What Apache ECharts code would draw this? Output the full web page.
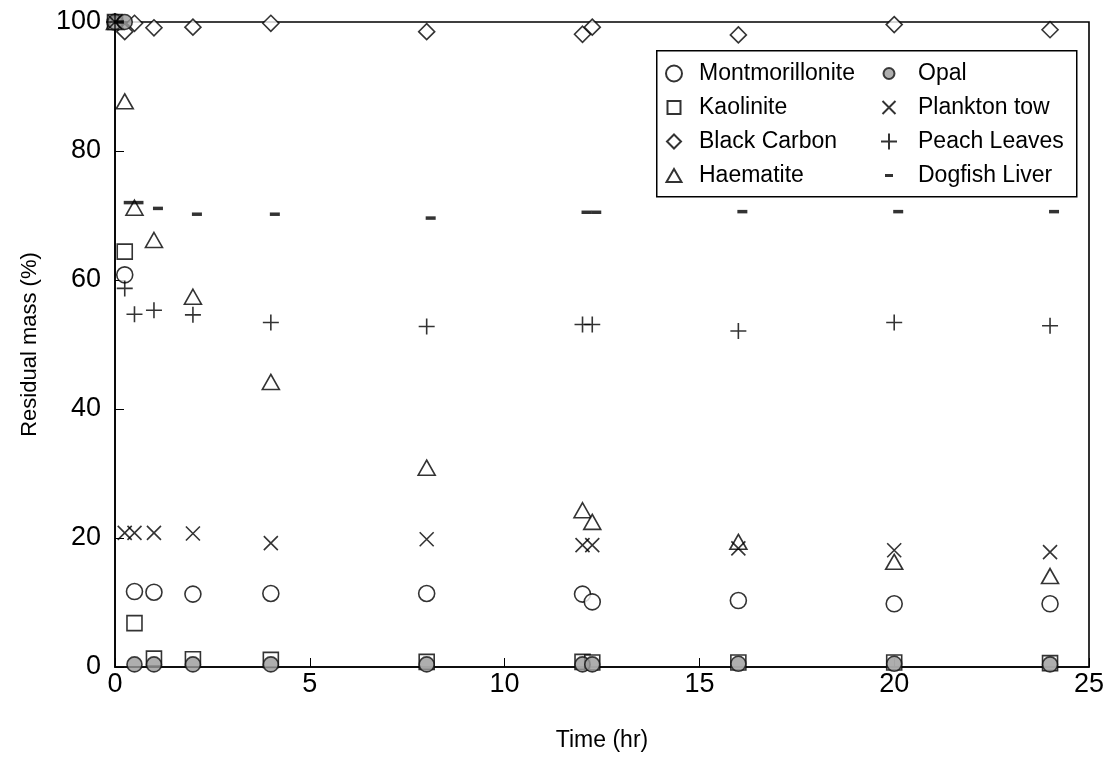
<!DOCTYPE html>
<html>
<head>
<meta charset="utf-8">
<script src="https://cdn.jsdelivr.net/npm/echarts@6/dist/echarts.min.js"></script>
<style>
html,body{margin:0;padding:0;background:#fff;}
#chart{width:1108px;height:767px;}
</style>
</head>
<body>
<div id="chart"></div>
<script>
// ---- data ----
const times = [0, 0.25, 0.5, 1, 2, 4, 8, 12, 12.25, 16, 20, 24];
const montmorillonite = [100, 60.8, 11.7, 11.6, 11.3, 11.4, 11.4, 11.3, 10.1, 10.3, 9.8, 9.8];
const kaolinite       = [100, 64.4, 6.8, 1.3, 1.2, 1.1, 0.8, 0.8, 0.7, 0.7, 0.7, 0.6];
const blackCarbon     = [100, 98.5, 99.8, 99.1, 99.2, 99.8, 98.5, 98.1, 99.2, 98.0, 99.6, 98.8];
const haematite       = [100, 87.7, 71.2, 66.2, 57.4, 44.2, 30.9, 24.3, 22.5, 19.4, 16.3, 14.1];
const opal            = [100, 100, 0.4, 0.4, 0.4, 0.4, 0.4, 0.4, 0.4, 0.5, 0.5, 0.4];
const planktonTow     = [100, 20.8, 20.8, 20.8, 20.7, 19.2, 19.8, 18.9, 18.9, 18.4, 18.1, 17.8];
const peachLeaves     = [100, 58.7, 54.7, 55.3, 54.6, 53.4, 52.8, 53.1, 53.1, 52.1, 53.4, 52.9];
const dogfishLiver    = [100, 72.0, 72.0, 71.1, 70.2, 70.2, 69.6, 70.5, 70.5, 70.6, 70.6, 70.6];
const seriesNames = ['Montmorillonite', 'Kaolinite', 'Black Carbon', 'Haematite',
                     'Opal', 'Plankton tow', 'Peach Leaves', 'Dogfish Liver'];
const xTicks = [0, 5, 10, 15, 20, 25];
const yTicks = [0, 20, 40, 60, 80, 100];

// ---- presentation ----
const FONT = "'Liberation Sans', Arial, Helvetica, sans-serif";
const pair = (ys) => times.map((t, i) => [t, ys[i]]);
const LW = 1.6;
const open = {color: '#fff', borderColor: '#000', borderWidth: LW};
const stroke = {color: 'transparent', borderColor: '#000', borderWidth: LW};
const X_PATH = 'path://M0,0 L14,14 M14,0 L0,14';
const PLUS_PATH = 'path://M8,0 L8,16 M0,8 L16,8';
const DASH_LEGEND = 'path://M0,0 M16,16 M4,6.5 L12,6.5 L12,9.5 L4,9.5 Z';

const base = {type: 'scatter', clip: false, z: 3};
const series = [
  Object.assign({}, base, {name: seriesNames[0], data: pair(montmorillonite), symbol: 'circle', symbolSize: 16, itemStyle: open}),
  Object.assign({}, base, {name: seriesNames[1], data: pair(kaolinite), symbol: 'rect', symbolSize: 15, itemStyle: open}),
  Object.assign({}, base, {name: seriesNames[2], data: pair(blackCarbon), symbol: 'diamond', symbolSize: 16, itemStyle: open}),
  Object.assign({}, base, {name: seriesNames[3], data: pair(haematite), symbol: 'triangle', symbolSize: [17, 15], itemStyle: open}),
  Object.assign({}, base, {name: seriesNames[4], data: pair(opal), symbol: 'circle', symbolSize: 15, itemStyle: {color: '#9a9a9a', borderColor: '#111', borderWidth: LW}}),
  Object.assign({}, base, {name: seriesNames[5], data: pair(planktonTow), symbol: X_PATH, symbolSize: 14, itemStyle: stroke}),
  Object.assign({}, base, {name: seriesNames[6], data: pair(peachLeaves), symbol: PLUS_PATH, symbolSize: 16, itemStyle: stroke}),
  Object.assign({}, base, {name: seriesNames[7], data: pair(dogfishLiver), symbol: 'rect', symbolSize: [10, 3.5], symbolOffset: [4, 0], itemStyle: {color: '#000', borderWidth: 0}})
];

const legendText = {fontFamily: FONT, fontSize: 23, color: '#000', lineHeight: 22};
const chart = echarts.init(document.getElementById('chart'), null, {renderer: 'canvas'});
chart.setOption({
  animation: false,
  backgroundColor: '#fff',
  grid: {left: 115, right: 19, top: 22, bottom: 100, show: true, borderColor: '#000', borderWidth: 1.6, backgroundColor: 'transparent'},
  xAxis: {
    type: 'value', min: xTicks[0], max: xTicks[xTicks.length - 1], interval: 5,
    name: 'Time (hr)', nameLocation: 'middle', nameGap: 62,
    nameTextStyle: {fontFamily: FONT, fontSize: 23, color: '#000'},
    axisLine: {show: true, lineStyle: {color: '#000', width: 1.6}},
    axisTick: {show: true, inside: true, length: 9, lineStyle: {color: '#000', width: 1}},
    axisLabel: {fontFamily: FONT, fontSize: 27, color: '#000', margin: 4},
    splitLine: {show: false}
  },
  yAxis: {
    type: 'value', min: yTicks[0], max: yTicks[yTicks.length - 1], interval: 20,
    name: 'Residual mass (%)', nameLocation: 'middle', nameGap: 74, nameRotate: 90,
    nameTextStyle: {fontFamily: FONT, fontSize: 22, color: '#000'},
    axisLine: {show: true, lineStyle: {color: '#000', width: 1.6}},
    axisTick: {show: true, inside: true, length: 9, lineStyle: {color: '#000', width: 1}},
    axisLabel: {fontFamily: FONT, fontSize: 27, color: '#000', margin: 14},
    splitLine: {show: false}
  },
  legend: [
    {
      orient: 'vertical', left: 665, top: 62, padding: 0, itemGap: 11,
      itemWidth: 16, itemHeight: 16, selectedMode: false,
      textStyle: Object.assign({padding: [0, 0, 0, 12]}, legendText),
      data: [
        {name: seriesNames[0], icon: 'circle'},
        {name: seriesNames[1], icon: 'path://M0,0 M16,16 M1.5,1.5 L14.5,1.5 L14.5,14.5 L1.5,14.5 Z'},
        {name: seriesNames[2], icon: 'path://M0,0 M16,16 M8,1 L15,8 L8,15 L1,8 Z'},
        {name: seriesNames[3], icon: 'path://M0,0 M16,16 M8,1.5 L15.5,14.5 L0.5,14.5 Z'}
      ]
    },
    {
      orient: 'vertical', left: 880, top: 62, padding: 0, itemGap: 11,
      itemWidth: 16, itemHeight: 16, selectedMode: false,
      textStyle: Object.assign({padding: [0, 0, 0, 16]}, legendText),
      data: [
        {name: seriesNames[4], icon: 'path://M0,0 M16,16 M8,2.5 A5.5,5.5 0 1,1 7.99,2.5 Z'},
        {name: seriesNames[5], icon: 'path://M0,0 M16,16 M1.5,1.5 L14.5,14.5 M14.5,1.5 L1.5,14.5'},
        {name: seriesNames[6], icon: 'path://M0,0 M16,16 M8,0 L8,16 M0,8 L16,8'},
        {name: seriesNames[7], icon: DASH_LEGEND}
      ]
    }
  ],
  graphic: [{
    type: 'rect', left: 656, top: 50, z: 1,
    shape: {width: 420, height: 146},
    style: {fill: '#fff', stroke: '#000', lineWidth: 1.5}
  }],
  series: series
});
</script>
</body>
</html>
